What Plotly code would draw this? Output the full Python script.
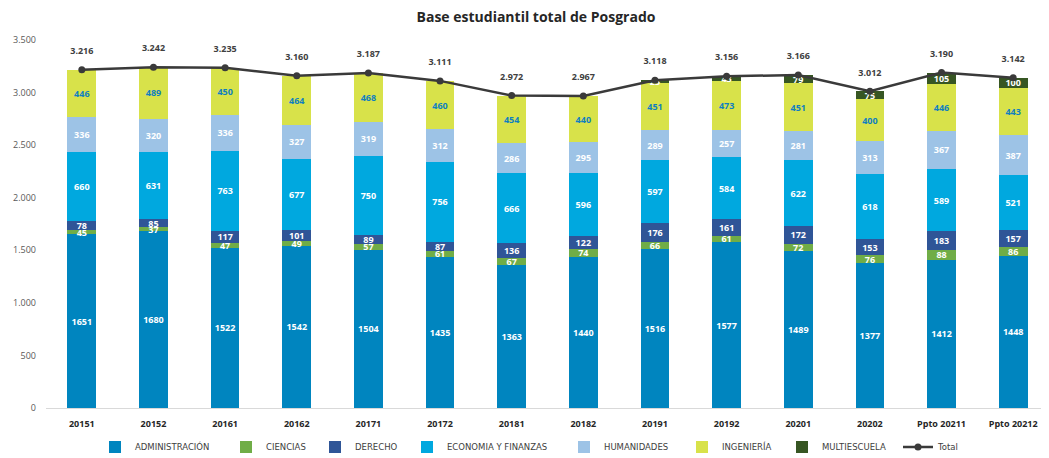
import plotly.graph_objects as go

periodos = ["20151", "20152", "20161", "20162", "20171", "20172", "20181", "20182",
            "20191", "20192", "20201", "20202", "Ppto 20211", "Ppto 20212"]

administracion = [1651, 1680, 1522, 1542, 1504, 1435, 1363, 1440, 1516, 1577, 1489, 1377, 1412, 1448]
ciencias = [45, 37, 47, 49, 57, 61, 67, 74, 66, 61, 72, 76, 88, 86]
derecho = [78, 85, 117, 101, 89, 87, 136, 122, 176, 161, 172, 153, 183, 157]
economia = [660, 631, 763, 677, 750, 756, 666, 596, 597, 584, 622, 618, 589, 521]
humanidades = [336, 320, 336, 327, 319, 312, 286, 295, 289, 257, 281, 313, 367, 387]
ingenieria = [446, 489, 450, 464, 468, 460, 454, 440, 451, 473, 451, 400, 446, 443]
multiescuela = [0, 0, 0, 0, 0, 0, 0, 0, 23, 43, 79, 75, 105, 100]
total = [3216, 3242, 3235, 3160, 3187, 3111, 2972, 2967, 3118, 3156, 3166, 3012, 3190, 3142]

y_ticks = [0, 500, 1000, 1500, 2000, 2500, 3000, 3500]

series = [
    ("ADMINISTRACIÓN", administracion, "#0085BF", "white"),
    ("CIENCIAS", ciencias, "#70AD47", "white"),
    ("DERECHO", derecho, "#2F5597", "white"),
    ("ECONOMIA Y FINANZAS", economia, "#00A8DF", "white"),
    ("HUMANIDADES", humanidades, "#9DC3E6", "white"),
    ("INGENIERÍA", ingenieria, "#D8E24A", "#0F7FC0"),
    ("MULTIESCUELA", multiescuela, "#375623", "white"),
]

# page body has an 8px margin, so the figure is drawn 8px in from the window corner
W, H, OFF = 1041, 450, 8

# one small legend per entry so each sits where the original puts it (window x of text start)
legend_text_x = [137, 268, 357, 449, 606, 724, 824, 940]

fig = go.Figure()

for i, (name, vals, color, txtcolor) in enumerate(series):
    fig.add_trace(go.Bar(
        x=periodos,
        y=vals,
        name=name,
        showlegend=True,
        legend="legend" if i == 0 else f"legend{i + 1}",
        marker=dict(color=color, line=dict(width=0)),
        text=[str(v) if v else "" for v in vals],
        textposition="inside",
        insidetextanchor="middle",
        textangle=0,
        textfont=dict(color=txtcolor, size=9, family="Open Sans", weight="bold"),
        hoverinfo="name+y",
    ))

fig.add_trace(go.Scatter(
    x=periodos,
    y=total,
    name="Total",
    showlegend=True,
    legend="legend8",
    mode="lines+markers",
    line=dict(color="#3A3A3A", width=2.5),
    marker=dict(color="#3A3A3A", size=7),
    hovertemplate="%{y:,.0f}",
))

# total labels: invisible bigger marker so the text sits a bit higher above the line
fig.add_trace(go.Scatter(
    x=periodos,
    y=total,
    showlegend=False,
    hoverinfo="skip",
    mode="markers+text",
    marker=dict(size=20, opacity=0),
    texttemplate="%{y:,.0f}",
    textposition="top center",
    textfont=dict(color="#404040", size=9, family="Open Sans", weight="bold"),
))

legends = {}
for i, tx in enumerate(legend_text_x):
    key = "legend" if i == 0 else f"legend{i + 1}"
    legends[key] = dict(
        orientation="h",
        xref="container", yref="container",
        x=(tx - OFF - 42) / W, xanchor="left",
        y=(H - (447 - OFF)) / H, yanchor="middle",
        font=dict(size=8.5, color="#404040", family="DejaVu Sans"),
        bgcolor="rgba(0,0,0,0)",
        itemwidth=30,
    )

fig.update_layout(
    width=W,
    height=H,
    showlegend=True,
    barmode="stack",
    bargap=0.6,
    separators=",.",
    plot_bgcolor="white",
    paper_bgcolor="white",
    font=dict(family="Open Sans", color="#404040"),
    title=dict(
        text="<b>Base estudiantil total de Posgrado</b>",
        x=(536 - OFF) / W, xanchor="center", y=(H - (17 - OFF)) / H, yanchor="middle",
        font=dict(size=14, color="#262626"),
    ),
    margin=dict(l=46 - OFF, r=0, t=40 - OFF, b=H - (408 - OFF), autoexpand=False),
    xaxis=dict(
        range=[-0.5, len(periodos) - 0.5],
        showline=True, linecolor="#D9D9D9", linewidth=1,
        tickfont=dict(size=9, color="#262626", weight="bold"),
        ticks="",
        ticklabelstandoff=7,
    ),
    yaxis=dict(
        range=[0, 3500],
        tickvals=y_ticks,
        tickformat=",.0f",
        showgrid=False,
        zeroline=False,
        tickfont=dict(size=9, color="#595959"),
        ticks="",
        ticklabelstandoff=9,
    ),
    uniformtext=dict(minsize=9, mode="show"),
    **legends,
)

fig.write_html("out.html")
